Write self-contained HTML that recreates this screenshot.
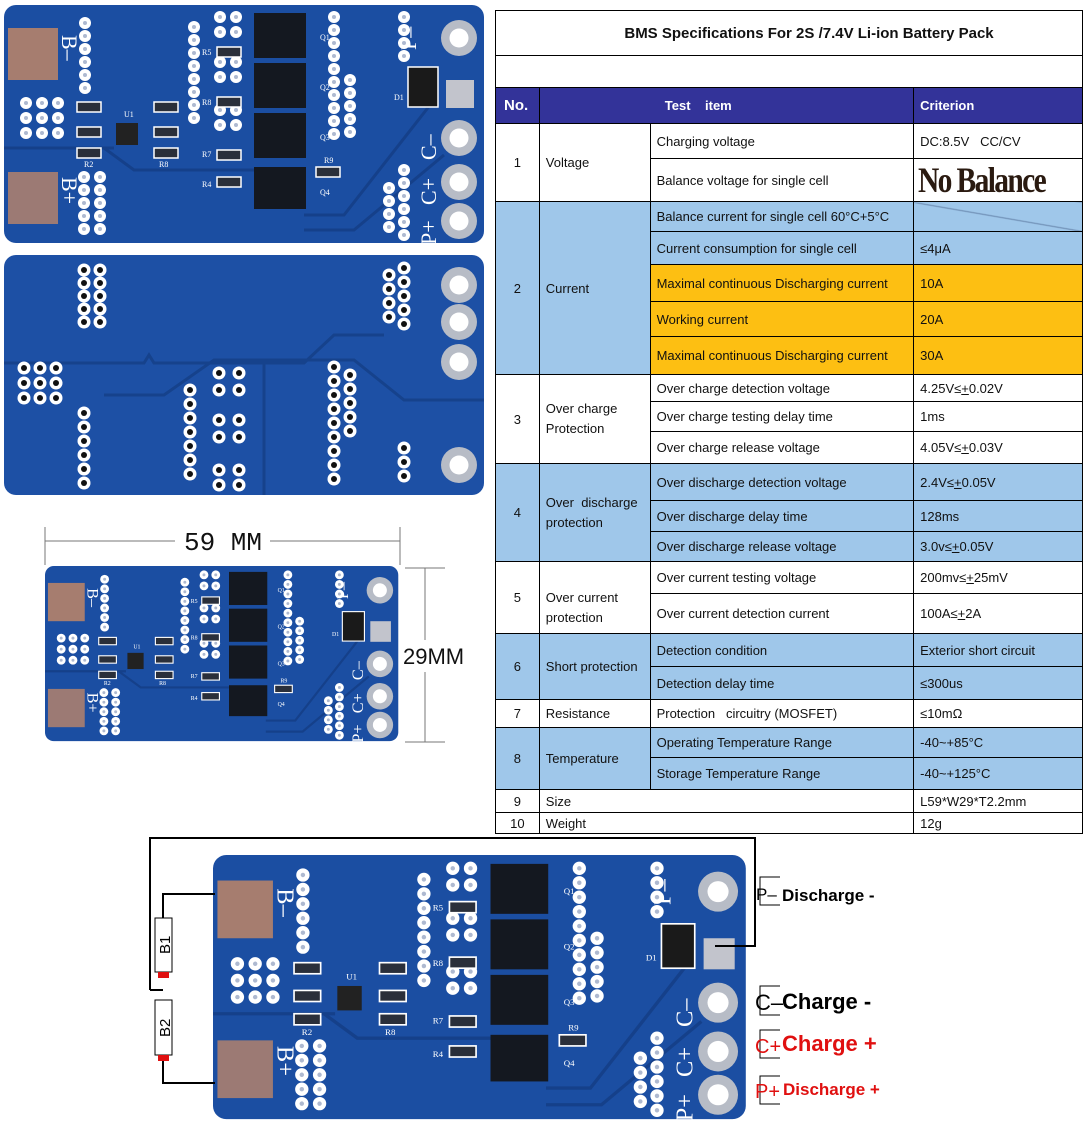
<!DOCTYPE html>
<html><head><meta charset="utf-8"><style>
body{margin:0;width:1085px;height:1124px;background:#fff;position:relative;overflow:hidden;font-family:"Liberation Sans",Arial,sans-serif}
#t{position:absolute;left:495px;top:10px;border-collapse:collapse;width:588px;font-size:13px;color:#111}
#t td{border:1px solid #000;padding:0 0 0 6px;white-space:nowrap}
.b{background:#9fc7ea}.o{background:#fdbf12}
.h td{background:#333399;color:#fff;font-weight:bold}
.c{text-align:center;padding:0!important}
svg{position:absolute;left:0;top:0}
</style></head><body>
<svg width="1085" height="1124" viewBox="0 0 1085 1124">
<defs>
<g id="v"><circle r="6" fill="#fff"/><circle r="2" fill="#aeb9d0"/></g>
<g id="w"><circle r="6.5" fill="#fff"/><circle r="3" fill="#111"/></g>
<g id="p"><circle r="18" fill="#b7bcc6"/><circle r="9.5" fill="#fff"/></g>
<g id="s"><rect width="24" height="10" fill="#2a2f3a" stroke="#fff" stroke-width="1.5"/></g>
<g id="brd">
<rect width="480" height="238" rx="12" fill="#1b4ea2"/>
<path d="M0 143H100L130 165H255M300 210H340L430 95M300 225H350L440 150M60 143H110" stroke="#15408a" stroke-width="3" fill="none"/>
<rect x="4" y="23" width="50" height="52" fill="#a67d6f"/>
<rect x="4" y="167" width="50" height="52" fill="#9c7a74"/>
<g fill="#fff" font-family="Liberation Serif,serif" font-size="22">
<text transform="translate(58,30) rotate(90)">B–</text>
<text transform="translate(58,172) rotate(90)">B+</text>
<text transform="translate(412,45) rotate(-90)">P–</text>
<text transform="translate(432,155) rotate(-90)">C–</text>
<text transform="translate(432,200) rotate(-90)">C+</text>
<text transform="translate(432,240) rotate(-90)">P+</text>
</g>
<g fill="#fff" font-family="Liberation Serif,serif" font-size="8">
<text x="120" y="112">U1</text><text x="198" y="50">R5</text><text x="198" y="100">R8</text><text x="198" y="152">R7</text><text x="198" y="182">R4</text><text x="80" y="162">R2</text><text x="155" y="162">R8</text><text x="320" y="158">R9</text><text x="316" y="35">Q1</text><text x="316" y="85">Q2</text><text x="316" y="135">Q3</text><text x="316" y="190">Q4</text><text x="390" y="95">D1</text>
</g>
<use href="#v" x="81" y="18"/><use href="#v" x="81" y="31"/><use href="#v" x="81" y="44"/><use href="#v" x="81" y="57"/><use href="#v" x="81" y="70"/><use href="#v" x="81" y="83"/>
<use href="#v" x="80" y="172"/><use href="#v" x="80" y="185"/><use href="#v" x="80" y="198"/><use href="#v" x="80" y="211"/><use href="#v" x="80" y="224"/>
<use href="#v" x="96" y="172"/><use href="#v" x="96" y="185"/><use href="#v" x="96" y="198"/><use href="#v" x="96" y="211"/><use href="#v" x="96" y="224"/>
<use href="#v" x="22" y="98"/><use href="#v" x="38" y="98"/><use href="#v" x="54" y="98"/><use href="#v" x="22" y="113"/><use href="#v" x="38" y="113"/><use href="#v" x="54" y="113"/><use href="#v" x="22" y="128"/><use href="#v" x="38" y="128"/><use href="#v" x="54" y="128"/>
<use href="#v" x="190" y="22"/><use href="#v" x="190" y="35"/><use href="#v" x="190" y="48"/><use href="#v" x="190" y="61"/><use href="#v" x="190" y="74"/><use href="#v" x="190" y="87"/><use href="#v" x="190" y="100"/><use href="#v" x="190" y="113"/>
<use href="#v" x="216" y="12"/><use href="#v" x="232" y="12"/><use href="#v" x="216" y="27"/><use href="#v" x="232" y="27"/><use href="#v" x="216" y="57"/><use href="#v" x="232" y="57"/><use href="#v" x="216" y="72"/><use href="#v" x="232" y="72"/><use href="#v" x="216" y="105"/><use href="#v" x="232" y="105"/><use href="#v" x="216" y="120"/><use href="#v" x="232" y="120"/>
<use href="#v" x="330" y="12"/><use href="#v" x="330" y="25"/><use href="#v" x="330" y="38"/><use href="#v" x="330" y="51"/><use href="#v" x="330" y="64"/><use href="#v" x="330" y="77"/><use href="#v" x="330" y="90"/><use href="#v" x="330" y="103"/><use href="#v" x="330" y="116"/><use href="#v" x="330" y="129"/>
<use href="#v" x="346" y="75"/><use href="#v" x="346" y="88"/><use href="#v" x="346" y="101"/><use href="#v" x="346" y="114"/><use href="#v" x="346" y="127"/>
<use href="#v" x="400" y="12"/><use href="#v" x="400" y="25"/><use href="#v" x="400" y="38"/><use href="#v" x="400" y="51"/>
<use href="#v" x="385" y="183"/><use href="#v" x="385" y="196"/><use href="#v" x="385" y="209"/><use href="#v" x="385" y="222"/>
<use href="#v" x="400" y="165"/><use href="#v" x="400" y="178"/><use href="#v" x="400" y="191"/><use href="#v" x="400" y="204"/><use href="#v" x="400" y="217"/><use href="#v" x="400" y="230"/>
<use href="#s" x="73" y="97"/><use href="#s" x="73" y="122"/><use href="#s" x="73" y="143"/><use href="#s" x="150" y="97"/><use href="#s" x="150" y="122"/><use href="#s" x="150" y="143"/><use href="#s" x="213" y="42"/><use href="#s" x="213" y="92"/><use href="#s" x="213" y="145"/><use href="#s" x="213" y="172"/><use href="#s" x="312" y="162"/>
<rect x="112" y="118" width="22" height="22" fill="#222"/>
<rect x="250" y="8" width="52" height="45" fill="#141820"/><rect x="250" y="58" width="52" height="45" fill="#141820"/><rect x="250" y="108" width="52" height="45" fill="#141820"/><rect x="250" y="162" width="52" height="42" fill="#141820"/>
<rect x="404" y="62" width="30" height="40" fill="#1a1a1a" stroke="#fff" stroke-width="1.5"/>
<rect x="442" y="75" width="28" height="28" fill="#c2c4cc"/>
<use href="#p" x="455" y="33"/><use href="#p" x="455" y="133"/><use href="#p" x="455" y="177"/><use href="#p" x="455" y="216"/>
</g>
</defs>
<use href="#brd" transform="translate(4,5)"/>
<g transform="translate(4,255)">
<rect width="480" height="240" rx="12" fill="#1d50a5"/>
<path d="M0 108H140L145 100L150 108H300L330 80H380M100 140H160L210 105H350L400 145H480M260 105V240" stroke="#16428c" stroke-width="3" fill="none"/>
<use href="#w" x="80" y="15"/><use href="#w" x="80" y="28"/><use href="#w" x="80" y="41"/><use href="#w" x="80" y="54"/><use href="#w" x="80" y="67"/><use href="#w" x="96" y="15"/><use href="#w" x="96" y="28"/><use href="#w" x="96" y="41"/><use href="#w" x="96" y="54"/><use href="#w" x="96" y="67"/>
<use href="#w" x="20" y="113"/><use href="#w" x="36" y="113"/><use href="#w" x="52" y="113"/><use href="#w" x="20" y="128"/><use href="#w" x="36" y="128"/><use href="#w" x="52" y="128"/><use href="#w" x="20" y="143"/><use href="#w" x="36" y="143"/><use href="#w" x="52" y="143"/>
<use href="#w" x="80" y="158"/><use href="#w" x="80" y="172"/><use href="#w" x="80" y="186"/><use href="#w" x="80" y="200"/><use href="#w" x="80" y="214"/><use href="#w" x="80" y="228"/>
<use href="#w" x="186" y="135"/><use href="#w" x="186" y="149"/><use href="#w" x="186" y="163"/><use href="#w" x="186" y="177"/><use href="#w" x="186" y="191"/><use href="#w" x="186" y="205"/><use href="#w" x="186" y="219"/>
<use href="#w" x="215" y="118"/><use href="#w" x="235" y="118"/><use href="#w" x="215" y="135"/><use href="#w" x="235" y="135"/><use href="#w" x="215" y="165"/><use href="#w" x="235" y="165"/><use href="#w" x="215" y="182"/><use href="#w" x="235" y="182"/><use href="#w" x="215" y="215"/><use href="#w" x="235" y="215"/><use href="#w" x="215" y="230"/><use href="#w" x="235" y="230"/>
<use href="#w" x="330" y="112"/><use href="#w" x="330" y="126"/><use href="#w" x="330" y="140"/><use href="#w" x="330" y="154"/><use href="#w" x="330" y="168"/><use href="#w" x="330" y="182"/><use href="#w" x="330" y="196"/><use href="#w" x="330" y="210"/><use href="#w" x="330" y="224"/>
<use href="#w" x="346" y="120"/><use href="#w" x="346" y="134"/><use href="#w" x="346" y="148"/><use href="#w" x="346" y="162"/><use href="#w" x="346" y="176"/>
<use href="#w" x="385" y="20"/><use href="#w" x="385" y="34"/><use href="#w" x="385" y="48"/><use href="#w" x="385" y="62"/><use href="#w" x="400" y="13"/><use href="#w" x="400" y="27"/><use href="#w" x="400" y="41"/><use href="#w" x="400" y="55"/><use href="#w" x="400" y="69"/>
<use href="#w" x="400" y="193"/><use href="#w" x="400" y="207"/><use href="#w" x="400" y="221"/>
<use href="#p" x="455" y="30"/><use href="#p" x="455" y="67"/><use href="#p" x="455" y="107"/><use href="#p" x="455" y="210"/>
</g>
<!-- dimension drawing -->
<g stroke="#777" stroke-width="1" fill="none">
<path d="M45 527V565M400 527V565M45 541H175M270 541H400M405 568H445M405 742H445M425 568V640M425 672V742"/>
</g>
<text x="184" y="550" font-family="Liberation Mono,monospace" font-size="26" fill="#111">59 MM</text>
<text x="403" y="664" font-family="Liberation Sans,sans-serif" font-size="22" fill="#111">29MM</text>
<use href="#brd" transform="translate(45,566) scale(0.736)"/>
<!-- bottom wiring -->
<use href="#brd" transform="translate(213,855) scale(1.11)"/>
<g stroke="#000" stroke-width="2" fill="none">
<path d="M150 990V838H755V946H715"/>
<path d="M150 990H163M163 918V894H215M163 1056V1083H215"/>
</g>
<rect x="155" y="918" width="17" height="54" fill="#fff" stroke="#000"/>
<rect x="158" y="972" width="11" height="6" fill="#e01010"/>
<rect x="155" y="1000" width="17" height="55" fill="#fff" stroke="#000"/>
<rect x="158" y="1055" width="11" height="6" fill="#e01010"/>
<text transform="translate(170,954) rotate(-90)" font-size="15" font-family="Liberation Sans,sans-serif" fill="#000">B1</text>
<text transform="translate(170,1037) rotate(-90)" font-size="15" font-family="Liberation Sans,sans-serif" fill="#000">B2</text>
<g stroke="#000" fill="none" stroke-width="1"><path d="M780 877H760V905H780M780 986H760V1015H780M780 1030H760V1058H780M780 1076H760V1104H780"/></g>
<g font-family="Liberation Sans,sans-serif">
<text x="756" y="900" font-size="17">P–</text><text x="782" y="901" font-size="17" font-weight="bold">Discharge -</text>
<text x="755" y="1010" font-size="22">C–</text><text x="782" y="1009" font-size="22" font-weight="bold">Charge -</text>
<text x="755" y="1053" font-size="20" fill="#e01010">C+</text><text x="782" y="1051" font-size="22" font-weight="bold" fill="#e01010">Charge +</text>
<text x="755" y="1098" font-size="20" fill="#e01010">P+</text><text x="783" y="1095" font-size="17" font-weight="bold" fill="#e01010">Discharge +</text>
</g>
</svg>
<table id="t">
<colgroup><col style="width:44px"><col style="width:111px"><col style="width:264px"><col style="width:169px"></colgroup>
<tr style="height:45px"><td colspan="4" style="text-align:center;font-weight:bold;font-size:15px;padding-left:40px!important">BMS Specifications For 2S /7.4V Li-ion Battery Pack</td></tr>
<tr style="height:32px"><td colspan="4"></td></tr>
<tr class="h" style="height:36px"><td style="font-size:15px;padding-left:8px">No.</td><td colspan="2" style="padding-left:125px">Test &nbsp;&nbsp; item</td><td>Criterion</td></tr>
<tr style="height:35px"><td rowspan="2" class="c">1</td><td rowspan="2">Voltage</td><td>Charging voltage</td><td>DC:8.5V &nbsp;&nbsp;CC/CV</td></tr>
<tr style="height:42px"><td>Balance voltage for single cell</td><td style="padding:0 0 0 4px;font-family:'Liberation Serif',serif;font-weight:bold;font-size:36px;color:#2a1a10;letter-spacing:-2px"><span style="display:inline-block;transform:scaleX(0.82);transform-origin:left">No Balance</span></td></tr>
<tr class="b" style="height:30px"><td rowspan="5" class="c">2</td><td rowspan="5">Current</td><td>Balance current for single cell 60°C+5°C</td><td style="background:linear-gradient(to top right,#9fc7ea 48%,#6f8fb5 50%,#9fc7ea 52%)"></td></tr>
<tr class="b" style="height:33px"><td>Current consumption for single cell</td><td>≤4μA</td></tr>
<tr class="o" style="height:37px"><td>Maximal continuous Discharging current</td><td>10A</td></tr>
<tr class="o" style="height:35px"><td>Working current</td><td>20A</td></tr>
<tr class="o" style="height:38px"><td>Maximal continuous Discharging current</td><td>30A</td></tr>
<tr style="height:27px"><td rowspan="3" class="c">3</td><td rowspan="3" style="white-space:normal;line-height:20px">Over charge Protection</td><td>Over charge detection voltage</td><td>4.25V≤<u>+</u>0.02V</td></tr>
<tr style="height:30px"><td>Over charge testing delay time</td><td>1ms</td></tr>
<tr style="height:32px"><td>Over charge release voltage</td><td>4.05V≤<u>+</u>0.03V</td></tr>
<tr class="b" style="height:37px"><td rowspan="3" class="c">4</td><td rowspan="3" style="white-space:normal;line-height:20px">Over &nbsp;discharge protection</td><td>Over discharge detection voltage</td><td>2.4V≤<u>+</u>0.05V</td></tr>
<tr class="b" style="height:31px"><td>Over discharge delay time</td><td>128ms</td></tr>
<tr class="b" style="height:30px"><td>Over discharge release voltage</td><td>3.0v≤<u>+</u>0.05V</td></tr>
<tr style="height:32px"><td rowspan="2" class="c">5</td><td rowspan="2" style="white-space:normal;line-height:20px;padding-top:20px">Over current protection</td><td>Over current testing voltage</td><td>200mv≤<u>+</u>25mV</td></tr>
<tr style="height:40px"><td>Over current detection current</td><td>100A≤<u>+</u>2A</td></tr>
<tr class="b" style="height:33px"><td rowspan="2" class="c">6</td><td rowspan="2">Short protection</td><td>Detection condition</td><td>Exterior short circuit</td></tr>
<tr class="b" style="height:33px"><td>Detection delay time</td><td>≤300us</td></tr>
<tr style="height:28px"><td class="c">7</td><td>Resistance</td><td>Protection &nbsp;&nbsp;circuitry (MOSFET)</td><td>≤10mΩ</td></tr>
<tr class="b" style="height:30px"><td rowspan="2" class="c">8</td><td rowspan="2">Temperature</td><td>Operating Temperature Range</td><td>-40~+85°C</td></tr>
<tr class="b" style="height:32px"><td>Storage Temperature Range</td><td>-40~+125°C</td></tr>
<tr style="height:23px"><td class="c">9</td><td colspan="2">Size</td><td>L59*W29*T2.2mm</td></tr>
<tr style="height:21px"><td class="c">10</td><td colspan="2">Weight</td><td>12g</td></tr>
</table>
</body></html>
